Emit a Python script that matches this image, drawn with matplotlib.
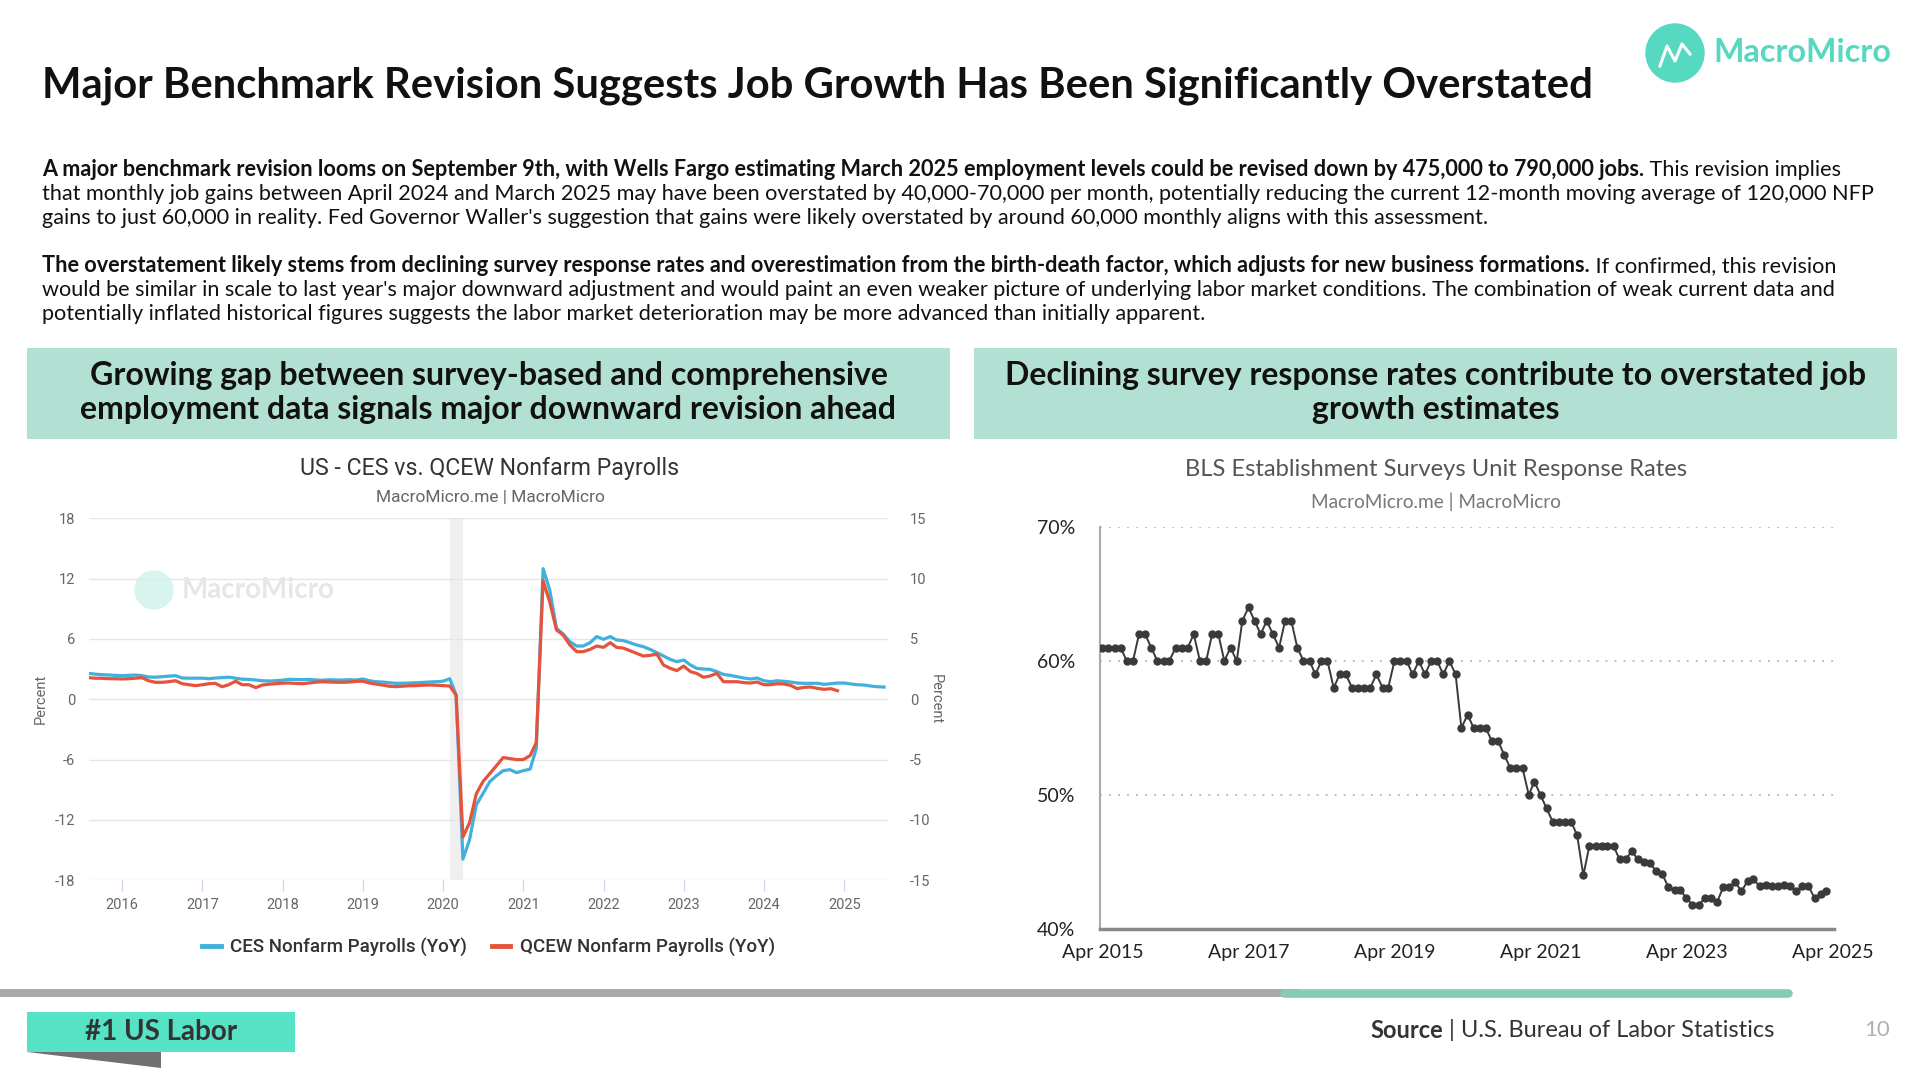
import numpy as np
import pandas as pd
import matplotlib
matplotlib.use("Agg")
import matplotlib.pyplot as plt
from matplotlib.patches import Rectangle, Circle, Polygon
import matplotlib.dates as mdates

plt.rcParams["axes.unicode_minus"] = False

# ---- data ----
# left chart: monthly YoY %, CES from Aug 2015, QCEW from Aug 2015 (ends Dec 2024)
ces = [2.59, 2.5, 2.45, 2.42, 2.38, 2.35, 2.38, 2.42, 2.35, 2.22, 2.2, 2.25,
       2.3, 2.35, 2.12, 2.1, 2.1, 2.1, 2.05, 2.12, 2.15, 2.2, 2.1, 2.0,
       1.98, 1.92, 1.85, 1.82, 1.85, 1.9, 1.99, 1.97, 1.95, 1.98, 1.92, 1.9,
       1.95, 1.92, 1.92, 1.95, 1.92, 2.02, 1.85, 1.75, 1.72, 1.65, 1.59, 1.6,
       1.62, 1.65, 1.68, 1.72, 1.75, 1.8, 2.05, 0.43, -15.9, -14.0, -10.5, -9.4,
       -8.2, -7.6, -7.1, -7.0, -7.3, -7.1, -6.95, -4.9, 13.0, 10.9, 7.06, 6.5,
       5.74, 5.3, 5.3, 5.64, 6.24, 5.97, 6.24, 5.9, 5.84, 5.64, 5.4, 5.24,
       4.97, 4.64, 4.31, 3.97, 3.74, 3.91, 3.41, 3.08, 3.01, 2.98, 2.75, 2.48,
       2.38, 2.25, 2.12, 2.02, 2.12, 1.85, 1.75, 1.85, 1.79, 1.72, 1.62, 1.59,
       1.59, 1.59, 1.49, 1.55, 1.62, 1.62, 1.52, 1.45, 1.42, 1.32, 1.25, 1.22]
qcew = [2.15, 2.1, 2.09, 2.05, 2.05, 2.02, 2.05, 2.1, 2.15, 1.85, 1.69, 1.69,
        1.75, 1.85, 1.55, 1.45, 1.36, 1.45, 1.55, 1.59, 1.25, 1.45, 1.8, 1.45,
        1.45, 1.16, 1.42, 1.5, 1.55, 1.6, 1.62, 1.58, 1.55, 1.62, 1.7, 1.75,
        1.72, 1.7, 1.69, 1.72, 1.78, 1.8, 1.62, 1.52, 1.42, 1.3, 1.26, 1.3,
        1.35, 1.36, 1.4, 1.42, 1.4, 1.36, 1.32, 0.43, -13.7, -12.3, -9.4, -8.2,
        -7.4, -6.6, -5.8, -5.9, -6.0, -6.0, -5.6, -4.3, 11.8, 9.7, 6.9, 6.4,
        5.4, 4.74, 4.74, 4.97, 5.3, 5.17, 5.64, 5.17, 5.1, 4.84, 4.57, 4.31,
        4.37, 4.5, 3.41, 3.08, 2.85, 3.31, 2.75, 2.58, 2.19, 2.32, 2.58, 1.75,
        1.75, 1.75, 1.66, 1.62, 1.72, 1.45, 1.45, 1.55, 1.52, 1.39, 1.06, 1.19,
        1.22, 1.09, 0.99, 1.06, 0.85]
payroll_start = "2015-08-01"
recession = ("2020-02-01", "2020-04-01")
left_ticks = [-18, -12, -6, 0, 6, 12, 18]
right_ticks = [-15, -10, -5, 0, 5, 10, 15]

# right chart: monthly unit response rate %, Apr 2015 - Mar 2025
response = [61, 61, 61, 61, 60, 60, 62, 62, 61, 60, 60, 60,
            61, 61, 61, 62, 60, 60, 62, 62, 60, 61, 60, 63,
            64, 63, 62, 63, 62, 61, 63, 63, 61, 60, 60, 59,
            60, 60, 58, 59, 59, 58, 58, 58, 58, 59, 58, 58,
            60, 60, 60, 59, 60, 59, 60, 60, 59, 60, 59, 55,
            56, 55, 55, 55, 54, 54, 53, 52, 52, 52, 50, 51,
            50, 49, 48, 48, 48, 48, 47, 44, 46.2, 46.2, 46.2, 46.2,
            46.2, 45.2, 45.2, 45.8, 45.2, 45.0, 44.9, 44.3, 44.1, 43.1, 42.9, 42.9,
            42.3, 41.8, 41.8, 42.3, 42.3, 42.0, 43.1, 43.1, 43.5, 42.8, 43.6, 43.7,
            43.2, 43.3, 43.2, 43.2, 43.3, 43.2, 42.8, 43.2, 43.2, 42.3, 42.6, 42.8]
response_start = "2015-04-01"
response_ticks = ["2015-04-01", "2017-04-01", "2019-04-01", "2021-04-01", "2023-04-01", "2025-04-01"]

title = "Major Benchmark Revision Suggests Job Growth Has Been Significantly Overstated"
para1 = [
    [("A major benchmark revision looms on September 9th, with Wells Fargo estimating March 2025 employment levels could be revised down by 475,000 to 790,000 jobs.", "bold"),
     (" This revision implies", "normal")],
    [("that monthly job gains between April 2024 and March 2025 may have been overstated by 40,000-70,000 per month, potentially reducing the current 12-month moving average of 120,000 NFP", "normal")],
    [("gains to just 60,000 in reality. Fed Governor Waller's suggestion that gains were likely overstated by around 60,000 monthly aligns with this assessment.", "normal")],
]
para2 = [
    [("The overstatement likely stems from declining survey response rates and overestimation from the birth-death factor, which adjusts for new business formations.", "bold"),
     (" If confirmed, this revision", "normal")],
    [("would be similar in scale to last year's major downward adjustment and would paint an even weaker picture of underlying labor market conditions. The combination of weak current data and", "normal")],
    [("potentially inflated historical figures suggests the labor market deterioration may be more advanced than initially apparent.", "normal")],
]
header_left = ["Growing gap between survey-based and comprehensive",
               "employment data signals major downward revision ahead"]
header_right = ["Declining survey response rates contribute to overstated job",
                "growth estimates"]

W, H = 1920, 1080
BLUE = "#3fb1dc"
RED = "#e5533c"
TEAL = "#56d8c1"

fig = plt.figure(figsize=(19.2, 10.8), dpi=100)
fig.patch.set_facecolor("white")

# background axes in pixel coordinates for the slide decoration
bg = fig.add_axes([0, 0, 1, 1])
bg.set_xlim(0, W)
bg.set_ylim(H, 0)
bg.axis("off")
renderer = fig.canvas.get_renderer()


def rich_line(x, y, parts, size):
    for txt, weight in parts:
        t = bg.text(x, y, txt, fontsize=size, fontweight=weight, family="Lato",
                    va="center", ha="left", color="#111")
        x += t.get_window_extent(renderer).width


bg.text(42, 86, title, fontsize=30.1, fontweight="bold", family="Lato", va="center", color="#111")

# logo top right
bg.add_patch(Circle((1675, 53), 29, color=TEAL))
bg.plot([1660, 1667, 1675, 1682, 1690], [66, 46, 61, 44, 54], color="white", lw=2.2)
bg.text(1713, 53, "MacroMicro", fontsize=23.2, fontweight="bold", family="Lato", color=TEAL, va="center")

for i, parts in enumerate(para1):
    rich_line(42, 170 + i * 24, parts, 15.6)
for i, parts in enumerate(para2):
    rich_line(42, 266 + i * 24, parts, 15.6)

# green headers
for x0, lines in [(27, header_left), (974, header_right)]:
    bg.add_patch(Rectangle((x0, 348), 923, 91, color="#b2e0d3", lw=0))
    for j, ln in enumerate(lines):
        bg.text(x0 + 461.5, 375 + j * 35, ln, fontsize=23, fontweight="bold", family="Lato",
                ha="center", va="center", color="#111")

# chart titles
bg.text(490, 469, "US - CES vs. QCEW Nonfarm Payrolls", fontsize=16.7, family="Roboto",
        ha="center", va="center", color="#333")
bg.text(490, 497, "MacroMicro.me | MacroMicro", fontsize=12.5, family="Roboto",
        ha="center", va="center", color="#666")
bg.text(1436, 470, "BLS Establishment Surveys Unit Response Rates", fontsize=17.1, family="Lato",
        ha="center", va="center", color="#555")
bg.text(1436, 502, "MacroMicro.me | MacroMicro", fontsize=13.7, family="Lato",
        ha="center", va="center", color="#777")

# watermark in left plot
bg.add_patch(Circle((154, 590), 19, color="#d8f4ee"))
bg.text(182, 590, "MacroMicro", fontsize=20, fontweight="bold", family="Lato", color="#e6e6e6", va="center")

# footer
bg.add_patch(Rectangle((0, 989), 1300, 8, color="#a9a9a9", lw=0))
bg.plot([1284, 1788], [993, 993], color="#86cbb7", lw=6.2, solid_capstyle="round")
bg.add_patch(Rectangle((27, 1012), 268, 40, color="#55e2c5", lw=0))
bg.add_patch(Polygon([(27, 1052), (161, 1052), (161, 1068)], color="#707070", lw=0))
bg.text(161, 1032, "#1 US Labor", fontsize=20, fontweight="bold", family="Lato",
        ha="center", va="center", color="#333")
t = bg.text(1370, 1030, "Source", fontsize=17, fontweight="bold", family="Lato", va="center", color="#333")
wsrc = t.get_window_extent(renderer).width
bg.text(1370 + wsrc, 1030, " | U.S. Bureau of Labor Statistics", fontsize=17, family="Lato",
        va="center", color="#333")
bg.text(1877, 1030, "10", fontsize=16, family="Lato", ha="center", va="center", color="#b0b0b0")

# ---- left chart ----
d_ces = pd.date_range(payroll_start, periods=len(ces), freq="MS")
d_qcew = pd.date_range(payroll_start, periods=len(qcew), freq="MS")

ax1 = fig.add_axes([89 / W, 1 - 880.2 / H, (888 - 89) / W, (880.2 - 518.4) / H])
ax1.set_facecolor("none")
ax1.axvspan(pd.Timestamp(recession[0]), pd.Timestamp(recession[1]), color="#efefef", lw=0, zorder=0)
ax1.plot(d_ces, ces, color=BLUE, lw=2.3, label="CES Nonfarm Payrolls (YoY)", zorder=3)
ax1.plot(d_qcew, qcew, color=RED, lw=2.3, label="QCEW Nonfarm Payrolls (YoY)", zorder=4)
ax1.set_ylim(-18, 18)
ax1.set_yticks(left_ticks)
ax1.set_xlim(pd.Timestamp("2015-08-04"), pd.Timestamp("2025-07-19"))
ax1.xaxis.set_major_locator(mdates.YearLocator())
ax1.xaxis.set_major_formatter(mdates.DateFormatter("%Y"))
ax1.grid(axis="y", color="#e6e6e6", lw=1)
for s in ax1.spines.values():
    s.set_visible(False)
ax1.tick_params(axis="y", length=0, pad=10, labelcolor="#666", labelsize=10.5)
ax1.tick_params(axis="x", length=8, width=1, color="#ccd6eb", pad=5, labelcolor="#666", labelsize=10.5)
for lb in ax1.get_xticklabels() + ax1.get_yticklabels():
    lb.set_family("Roboto")
ax1.set_ylabel("Percent", color="#666", fontsize=10.5, family="Roboto", labelpad=5)

ax2 = ax1.twinx()
ax2.set_ylim(-15, 15)
ax2.set_yticks(right_ticks)
for s in ax2.spines.values():
    s.set_visible(False)
ax2.tick_params(axis="y", length=0, pad=16, labelcolor="#666", labelsize=10.5)
for lb in ax2.get_yticklabels():
    lb.set_family("Roboto")
ax2.set_ylabel("Percent", color="#666", fontsize=10.5, family="Roboto", rotation=-90, labelpad=9)

leg = ax1.legend(loc="center", bbox_to_anchor=(0.5, -0.185), ncol=2, frameon=False,
                 handlelength=1.0, handletextpad=0.5, columnspacing=1.3,
                 prop={"family": "Roboto", "size": 13.5, "weight": "medium"})
for h in leg.get_lines():
    h.set_linewidth(3.5)
for tx in leg.get_texts():
    tx.set_color("#333")

# ---- right chart ----
d_resp = pd.date_range(response_start, periods=len(response), freq="MS")
ax3 = fig.add_axes([1100 / W, 1 - 929 / H, 734 / W, 402 / H])
ax3.set_facecolor("none")
ax3.plot(d_resp, response, color="#3a3a3a", lw=1.4, marker="o", ms=5, zorder=3)
ax3.set_ylim(40, 70)
ax3.set_yticks([40, 50, 60, 70])
ax3.set_yticklabels([f"{v}%" for v in [40, 50, 60, 70]])
ax3.set_xlim(pd.Timestamp("2015-03-20"), pd.Timestamp("2025-04-08"))
ax3.set_xticks([pd.Timestamp(d) for d in response_ticks])
ax3.set_xticklabels([pd.Timestamp(d).strftime("%b %Y") for d in response_ticks])
ax3.yaxis.grid(True, linestyle=(0, (1, 4)), color="#b5b5b5", lw=1.3)
ax3.spines["top"].set_visible(False)
ax3.spines["right"].set_visible(False)
ax3.spines["left"].set_color("#aaaaaa")
ax3.spines["left"].set_linewidth(1.5)
ax3.spines["bottom"].set_color("#888888")
ax3.spines["bottom"].set_linewidth(2.5)
ax3.tick_params(axis="both", length=0, labelcolor="#222", labelsize=14)
ax3.tick_params(axis="y", pad=18)
ax3.tick_params(axis="x", pad=11)
for lb in ax3.get_xticklabels() + ax3.get_yticklabels():
    lb.set_family("Lato")

fig.savefig("out.png", dpi=100)
